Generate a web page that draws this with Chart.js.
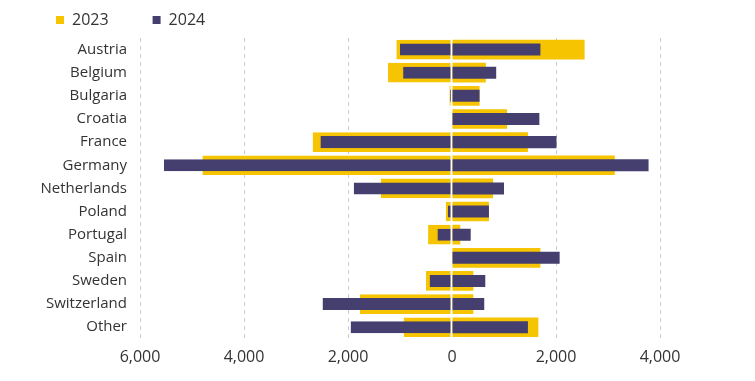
<!DOCTYPE html>
<html>
<head>
<meta charset="utf-8">
<script src="https://cdn.jsdelivr.net/npm/chart.js@4/dist/chart.umd.min.js"></script>
<style>
  html, body { margin: 0; padding: 0; background: #ffffff; }
  #wrap { width: 755px; height: 381px; position: relative; }
</style>
</head>
<body>
<div id="wrap"><canvas id="c" width="755" height="381"></canvas></div>
<script>
const categories = ['Austria', 'Belgium', 'Bulgaria', 'Croatia', 'France', 'Germany', 'Netherlands', 'Poland', 'Portugal', 'Spain', 'Sweden', 'Switzerland', 'Other'];
const neg2023 = [-1070, -1230, -50, 0, -2680, -4800, -1370, -120, -460, 0, -500, -1770, -930];
const pos2023 = [2550, 650, 530, 1060, 1460, 3130, 790, 710, 160, 1700, 410, 410, 1660];
const neg2024 = [-1000, -940, -40, 0, -2530, -5540, -1890, -80, -280, 0, -430, -2490, -1950];
const pos2024 = [1700, 850, 530, 1680, 2010, 3780, 1000, 710, 360, 2070, 640, 620, 1460];
const xTicks = [-6000, -4000, -2000, 0, 2000, 4000];

const YELLOW = '#F6C400';
const DARK = '#443F6F';
const FONT = "'Open Sans', 'DejaVu Sans', sans-serif";

const whiteZero = { top: 0, bottom: 0, left: 0, right: 1 };

new Chart(document.getElementById('c'), {
  type: 'bar',
  data: {
    labels: categories,
    datasets: [
      { label: '2023 (negative)', data: neg2023, stack: 's2023', grouped: false, backgroundColor: YELLOW, borderColor: '#ffffff', borderWidth: whiteZero, borderSkipped: false, barPercentage: 0.85, categoryPercentage: 1, order: 2 },
      { label: '2023', data: pos2023, stack: 's2023', grouped: false, backgroundColor: YELLOW, borderWidth: 0, barPercentage: 0.85, categoryPercentage: 1, order: 2 },
      { label: '2024 (negative)', data: neg2024, stack: 's2024', grouped: false, backgroundColor: DARK, borderColor: '#ffffff', borderWidth: whiteZero, borderSkipped: false, barPercentage: 0.52, categoryPercentage: 1, order: 1 },
      { label: '2024', data: pos2024, stack: 's2024', grouped: false, backgroundColor: DARK, borderWidth: 0, barPercentage: 0.52, categoryPercentage: 1, order: 1 }
    ]
  },
  options: {
    indexAxis: 'y',
    responsive: false,
    animation: false,
    layout: { padding: { top: -32, left: 12, right: 95, bottom: 5 } },
    plugins: {
      legend: {
        display: true,
        position: 'top',
        align: 'start',
        labels: {
          boxWidth: 8,
          boxHeight: 8,
          padding: 44,
          color: '#333333',
          font: { family: FONT, size: 16 },
          filter: (item) => item.datasetIndex % 2 === 1,
          sort: (a, b) => a.datasetIndex - b.datasetIndex
        }
      },
      tooltip: { enabled: false }
    },
    scales: {
      x: {
        type: 'linear',
        stacked: true,
        min: xTicks[0],
        max: xTicks[xTicks.length - 1],
        afterBuildTicks: (s) => { s.ticks = xTicks.map(v => ({ value: v })); },
        ticks: {
          color: '#333333',
          font: { family: FONT, size: 16 },
          padding: 9,
          callback: (v) => Math.abs(v).toLocaleString('en-US')
        },
        grid: {
          drawTicks: false,
          color: (ctx) => (ctx.tick && ctx.tick.value === 0) ? 'rgba(0,0,0,0)' : '#cccccc',
          lineWidth: 1
        },
        border: { display: false, dash: [4, 4] }
      },
      y: {
        type: 'category',
        stacked: true,
        afterFit: (s) => { s.width = 128; },
        ticks: {
          color: '#333333',
          font: { family: FONT, size: 15 },
          padding: 13
        },
        grid: { display: false, drawTicks: false },
        border: { display: false }
      }
    }
  }
});
</script>
</body>
</html>
